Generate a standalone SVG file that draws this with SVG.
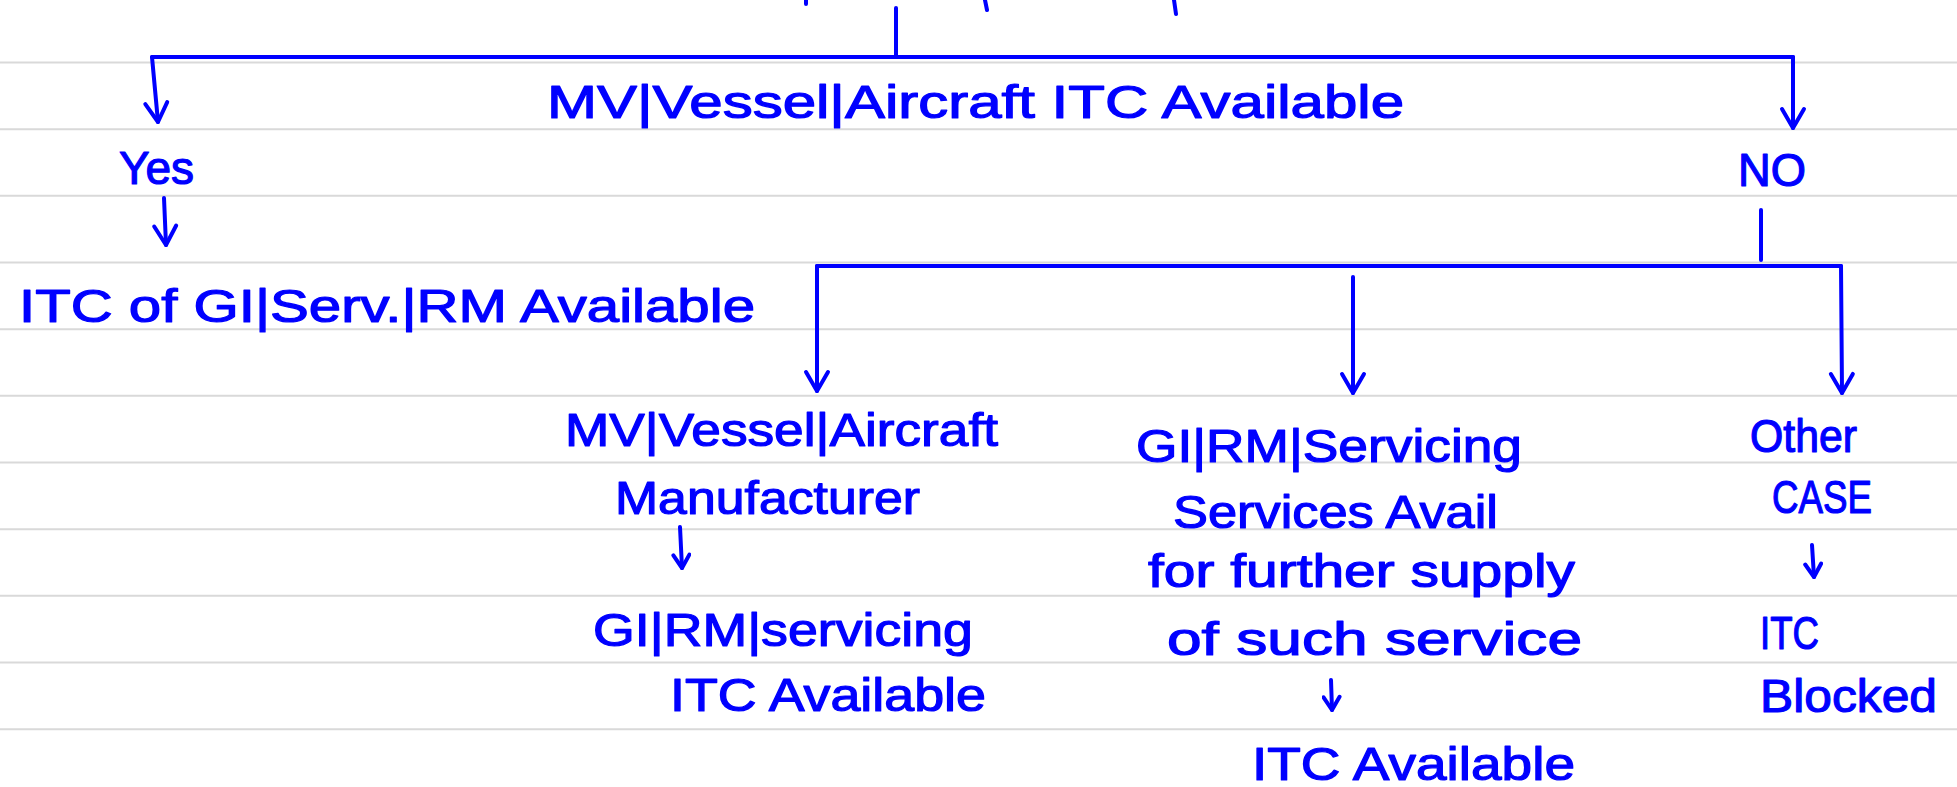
<svg xmlns="http://www.w3.org/2000/svg" width="1957" height="787" viewBox="0 0 1957 787">
<defs>
<style>
.rule{stroke:#d9d9d9;stroke-width:2}
.c{stroke:#0000ff;stroke-width:4;fill:none;stroke-linecap:round;stroke-linejoin:round}
.t{font-family:"Liberation Sans",Arial,sans-serif;font-size:46px;fill:#0000ff;stroke:#0000ff;stroke-width:1.2;stroke-linejoin:round}
</style>
<marker id="ah" viewBox="-22 -14 26 28" markerWidth="26" markerHeight="28" refX="0" refY="0" orient="auto" markerUnits="userSpaceOnUse">
<path d="M-19,-11 L0,0 L-19,11" fill="none" stroke="#0000ff" stroke-width="4" stroke-linecap="round" stroke-linejoin="round"/>
</marker>
<marker id="ahs" viewBox="-16 -10 20 20" markerWidth="20" markerHeight="20" refX="0" refY="0" orient="auto" markerUnits="userSpaceOnUse">
<path d="M-13,-8 L0,0 L-13,8" fill="none" stroke="#0000ff" stroke-width="4" stroke-linecap="round" stroke-linejoin="round"/>
</marker>
</defs>
<rect width="1957" height="787" fill="#ffffff"/>
<g id="paper">
<line class="rule" x1="0" y1="62.5" x2="1957" y2="62.5"/>
<line class="rule" x1="0" y1="129.2" x2="1957" y2="129.2"/>
<line class="rule" x1="0" y1="195.8" x2="1957" y2="195.8"/>
<line class="rule" x1="0" y1="262.5" x2="1957" y2="262.5"/>
<line class="rule" x1="0" y1="329.2" x2="1957" y2="329.2"/>
<line class="rule" x1="0" y1="395.8" x2="1957" y2="395.8"/>
<line class="rule" x1="0" y1="462.5" x2="1957" y2="462.5"/>
<line class="rule" x1="0" y1="529.2" x2="1957" y2="529.2"/>
<line class="rule" x1="0" y1="595.8" x2="1957" y2="595.8"/>
<line class="rule" x1="0" y1="662.5" x2="1957" y2="662.5"/>
<line class="rule" x1="0" y1="729.2" x2="1957" y2="729.2"/>
<path class="c" d="M806,0 L806,4 M985,0 L987,10 M1174,0 L1176,14"/>
</g>
<g id="connectors">
<path class="c" d="M896,8 L896,56"/>
<path class="c" d="M152,57 L1793,57"/>
<path class="c" d="M152,57 L158,122" marker-end="url(#ah)"/>
<path class="c" d="M1793,57 L1793,128" marker-end="url(#ah)"/>
<path class="c" d="M164,198 L166,245" marker-end="url(#ah)"/>
<path class="c" d="M1761,210 L1761,260"/>
<path class="c" d="M817,266 L1841,266"/>
<path class="c" d="M817,266 L817,391" marker-end="url(#ah)"/>
<path class="c" d="M1353,277 L1353,393" marker-end="url(#ah)"/>
<path class="c" d="M1841,266 L1842,393" marker-end="url(#ah)"/>
<path class="c" d="M680,527 L682,568" marker-end="url(#ahs)"/>
<path class="c" d="M1331,680 L1332,710" marker-end="url(#ahs)"/>
<path class="c" d="M1812,545 L1814,577" marker-end="url(#ahs)"/>
</g>
<g id="question"><text class="t" x="547" y="118" textLength="857" lengthAdjust="spacingAndGlyphs">MV|Vessel|Aircraft ITC Available</text></g>
<g id="yes"><text class="t" x="119" y="184" textLength="75" lengthAdjust="spacingAndGlyphs">Yes</text></g>
<g id="yes-result"><text class="t" x="19" y="322" textLength="736" lengthAdjust="spacingAndGlyphs">ITC of GI|Serv.|RM Available</text></g>
<g id="no"><text class="t" x="1738" y="186" textLength="68" lengthAdjust="spacingAndGlyphs">NO</text></g>
<g id="manufacturer">
<text class="t" x="565" y="446" textLength="433" lengthAdjust="spacingAndGlyphs">MV|Vessel|Aircraft</text>
<text class="t" x="615" y="514" textLength="305" lengthAdjust="spacingAndGlyphs">Manufacturer</text>
</g>
<g id="manufacturer-result">
<text class="t" x="593" y="646" textLength="380" lengthAdjust="spacingAndGlyphs">GI|RM|servicing</text>
<text class="t" x="670" y="711" textLength="316" lengthAdjust="spacingAndGlyphs">ITC Available</text>
</g>
<g id="further-supply">
<text class="t" x="1136" y="462" textLength="386" lengthAdjust="spacingAndGlyphs">GI|RM|Servicing</text>
<text class="t" x="1173" y="528" textLength="325" lengthAdjust="spacingAndGlyphs">Services Avail</text>
<text class="t" x="1148" y="587" textLength="427" lengthAdjust="spacingAndGlyphs">for further supply</text>
<text class="t" x="1167" y="655" textLength="415" lengthAdjust="spacingAndGlyphs">of such service</text>
</g>
<g id="further-supply-result"><text class="t" x="1252" y="780" textLength="323" lengthAdjust="spacingAndGlyphs">ITC Available</text></g>
<g id="other-case">
<text class="t" x="1750" y="452" textLength="107" lengthAdjust="spacingAndGlyphs">Other</text>
<text class="t" x="1772" y="513" textLength="100" lengthAdjust="spacingAndGlyphs">CASE</text>
</g>
<g id="other-result">
<text class="t" x="1760" y="649" textLength="59" lengthAdjust="spacingAndGlyphs">ITC</text>
<text class="t" x="1760" y="712" textLength="177" lengthAdjust="spacingAndGlyphs">Blocked</text>
</g>
</svg>
